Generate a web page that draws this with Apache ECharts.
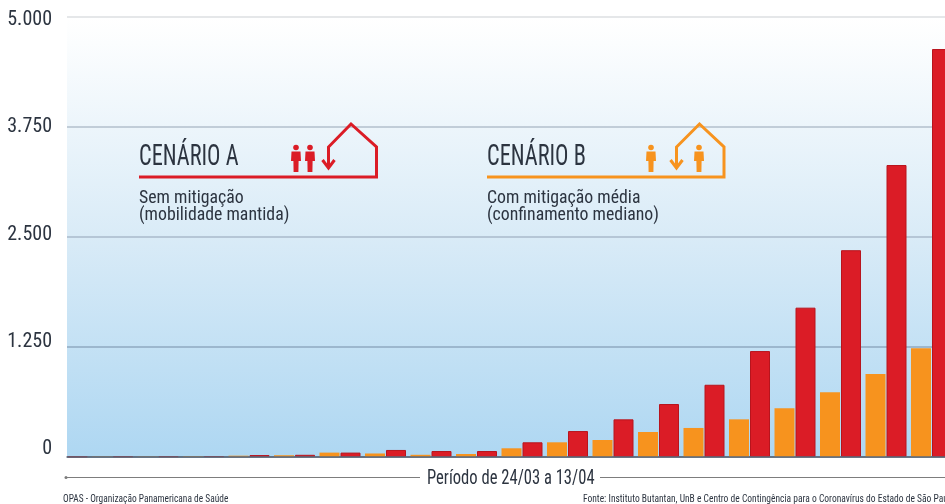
<!DOCTYPE html>
<html>
<head>
<meta charset="utf-8">
<style>
  html, body { margin: 0; padding: 0; background: #fff; overflow: hidden; }
  #main { width: 945px; height: 504px; }
</style>
<script src="https://cdn.jsdelivr.net/npm/echarts@6/dist/echarts.min.js"></script>
</head>
<body>
<div id="main"></div>
<script>
// dias do periodo (o primeiro, 24/03, fica fora da area desenhada)
const dias = ['25/03','26/03','27/03','28/03','29/03','30/03','31/03','01/04','02/04','03/04',
              '04/04','05/04','06/04','07/04','08/04','09/04','10/04','11/04','12/04','13/04'];
const cenarioA = [5, 8, 8, 10, 22, 25, 50, 80, 68, 68, 167, 295, 428, 602, 821, 1204, 1697, 2350, 3318, 4636];
const cenarioB = [0, 5, 5, 8, 15, 20, 50, 40, 25, 34, 99, 167, 193, 284, 330, 428, 553, 735, 943, 1235];
const eixoY = ['0', '1.250', '2.500', '3.750', '5.000'];
const passoY = 1250;
const maxY = 5000;

const corA = '#db1c26';
const corB = '#f7931e';
const corTexto = '#2c3440';
const fonte = 'Roboto, sans-serif';

// boneco do icone
function pessoa(x, cor) {
  return [
    { type: 'circle', z: 20, shape: { cx: x, cy: 147.5, r: 2.8 }, style: { fill: cor } },
    { type: 'polygon', z: 20, shape: { points: [[x - 4.5, 151.5], [x + 4.5, 151.5], [x + 5, 161], [x + 2.6, 161], [x + 2.4, 172], [x - 2.4, 172], [x - 2.6, 161], [x - 5, 161]] }, style: { fill: cor } }
  ];
}

// linha do cenario + casa + seta
function casa(x0, xDir, xTopo, xEsq, cor) {
  return [
    { type: 'polyline', z: 20, shape: { points: [[x0, 177], [xDir, 177], [xDir, 147], [xTopo, 124], [xEsq, 147], [xEsq, 167]] }, style: { stroke: cor, lineWidth: 3, fill: null } },
    { type: 'polyline', z: 20, shape: { points: [[xEsq - 6, 160], [xEsq, 168], [xEsq + 6, 160]] }, style: { stroke: cor, lineWidth: 3, fill: null } }
  ];
}

// texto condensado: a fonte do original e mais estreita que a Roboto
function texto(x, y, t, tamanho, escala) {
  return {
    type: 'text', z: 20, x: x, y: y, scaleX: escala || 1,
    style: { text: t, fill: corTexto, font: 'condensed normal ' + tamanho + 'px ' + fonte, textVerticalAlign: 'middle' }
  };
}

const graficos = [].concat(
  casa(139, 376.5, 351, 328.5, corA),
  pessoa(296, corA), pessoa(310, corA),
  casa(487, 724, 699.5, 676.5, corB),
  pessoa(651, corB), pessoa(699, corB),
  [
    texto(139, 158, 'CENÁRIO A', 29, 0.77),
    texto(139, 199, 'Sem mitigação', 17.8),
    texto(139, 216, '(mobilidade mantida)', 17.8),
    texto(487, 158, 'CENÁRIO B', 29, 0.77),
    texto(487, 199, 'Com mitigação média', 17.8),
    texto(487, 216, '(confinamento mediano)', 17.8),
    { type: 'line', z: 5, shape: { x1: 66, y1: 477.5, x2: 420, y2: 477.5 }, style: { stroke: '#7d7d7d', lineWidth: 1 } },
    { type: 'line', z: 5, shape: { x1: 600, y1: 477.5, x2: 945, y2: 477.5 }, style: { stroke: '#7d7d7d', lineWidth: 1 } },
    { type: 'circle', z: 5, shape: { cx: 66, cy: 477.5, r: 1.5 }, style: { fill: '#7d7d7d' } },
    texto(427, 479, 'Período de 24/03 a 13/04', 19.5, 0.85),
    texto(63, 499, 'OPAS - Organização Panamericana de Saúde', 10, 0.94),
    texto(583, 499, 'Fonte: Instituto Butantan, UnB e Centro de Contingência para o Coronavírus do Estado de São Paulo', 10, 0.95)
  ]
);

const chart = echarts.init(document.getElementById('main'));

const option = {
  animation: false,
  grid: [
    // fundo e linhas
    {
      left: 67, top: 17, right: 0, height: 440,
      show: true, borderWidth: 0,
      backgroundColor: {
        type: 'linear', x: 0, y: 0, x2: 0, y2: 1,
        colorStops: [
          { offset: 0, color: '#ffffff' },
          { offset: 0.06, color: '#fbfdfe' },
          { offset: 0.5, color: '#d9ebf7' },
          { offset: 1, color: '#aed7f2' }
        ]
      }
    },
    // so para os rotulos: no original nao coincidem com as linhas
    { left: 52, top: 20, width: 10, height: 429 },
    // barras: o primeiro dia comeca antes do fundo e o ultimo passa da borda
    { left: 44.25, top: 17, width: 910, height: 440, outerBoundsMode: 'none' }
  ],
  xAxis: [
    {
      gridIndex: 0, type: 'value', z: 5,
      axisLine: { show: true, onZero: false, lineStyle: { color: '#5d6b7c', width: 1.5 } },
      axisTick: { show: false }, axisLabel: { show: false }, splitLine: { show: false }
    },
    { gridIndex: 1, type: 'value', show: false },
    {
      gridIndex: 2, type: 'category', data: dias,
      axisLine: { show: false }, axisTick: { show: false }, axisLabel: { show: false }
    }
  ],
  yAxis: [
    {
      gridIndex: 0, type: 'value', min: 0, max: maxY, interval: passoY,
      axisLine: { show: false }, axisTick: { show: false }, axisLabel: { show: false },
      splitLine: {
        lineStyle: {
          width: 1.5,
          color: ['#5d6b7c', '#8fa8c0', '#a9bacb', '#b3bfcc', '#dcdfe2']
        }
      }
    },
    {
      gridIndex: 1, type: 'value', min: 0, max: maxY, interval: passoY, position: 'left',
      axisLine: { show: false }, axisTick: { show: false }, splitLine: { show: false },
      axisLabel: {
        margin: 0,
        color: corTexto,
        fontStyle: 'condensed',
        fontFamily: fonte,
        fontSize: 20,
        formatter: function (v) { return eixoY[v / passoY]; }
      }
    },
    {
      gridIndex: 2, type: 'value', min: 0, max: maxY, show: false, splitLine: { show: false }
    }
  ],
  series: [
    {
      name: 'Cenário B',
      type: 'bar',
      xAxisIndex: 2, yAxisIndex: 2,
      barWidth: 20,
      barGap: '5%',
      itemStyle: { color: corB },
      data: cenarioB
    },
    {
      name: 'Cenário A',
      type: 'bar',
      xAxisIndex: 2, yAxisIndex: 2,
      barWidth: 20,
      barGap: '5%',
      itemStyle: { color: corA, borderColor: '#b8141d', borderWidth: 1 },
      data: cenarioA
    }
  ],
  graphic: { elements: graficos }
};

chart.setOption(option);
</script>
</body>
</html>
